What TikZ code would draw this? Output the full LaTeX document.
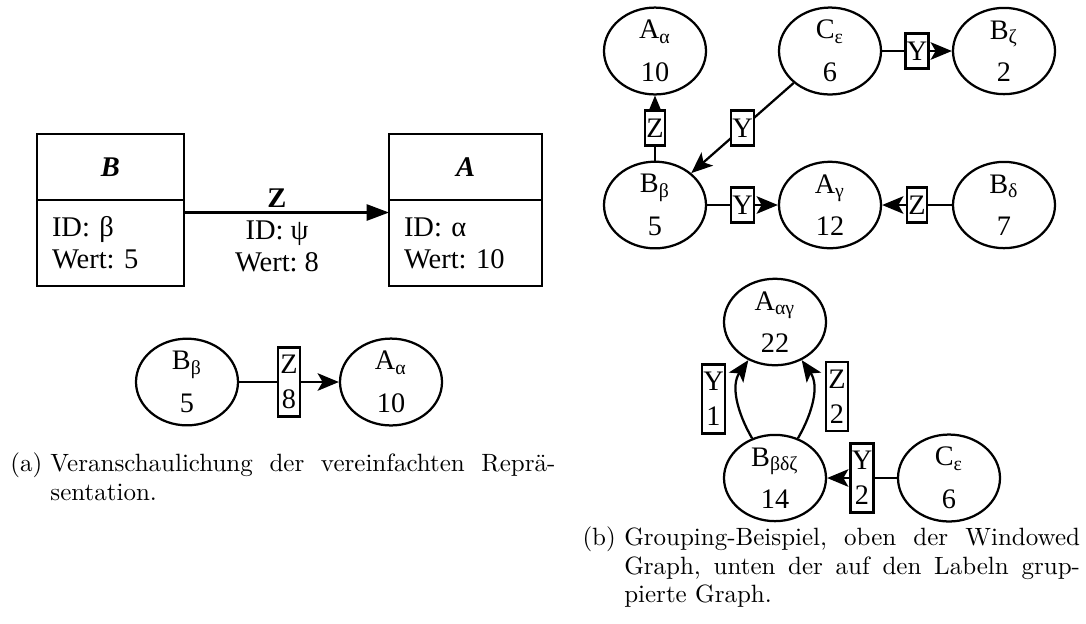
\documentclass[tikz,border=0pt]{standalone}
\usepackage{fontspec}
\newfontfamily\gvfont{Liberation Serif}
\usetikzlibrary{arrows.meta,positioning,shapes.geometric}
\frenchspacing

\begin{document}
\begin{tikzpicture}[
        x=0.4pt, y=-0.4pt,
        gvNode/.style={
            ellipse,
            draw,
            line width=0.9pt,
            minimum width=40.8pt,
            minimum height=30.4pt,
            inner sep=0pt,
            align=center,
            font=\gvfont\fontsize{11.3}{17}\selectfont
        },
        lblBox/.style={
            rectangle,
            draw,
            line width=0.9pt,
            fill=white,
            inner xsep=0.5pt,
            inner ysep=0pt,
            minimum width=8pt,
            minimum height=14pt,
            font=\gvfont\fontsize{11.3}{14}\selectfont
        },
        lblBoxTwo/.style={
            lblBox,
            minimum width=8.8pt,
            minimum height=27.6pt,
            align=center
        },
        headBox/.style={
            rectangle,
            draw,
            line width=0.9pt,
            outer sep=0pt,
            minimum height=26.4pt,
            font=\gvfont\fontsize{11.4}{12.8}\selectfont\bfseries\itshape
        },
        bodyBox/.style={
            rectangle,
            draw,
            line width=0.9pt,
            outer sep=0pt,
            minimum height=34.4pt,
            inner xsep=6pt,
            align=left,
            font=\gvfont\fontsize{11.4}{12.8}\selectfont
        },
        edgeText/.style={
            align=center,
            inner sep=0pt,
            font=\gvfont\fontsize{11.4}{12.8}\selectfont
        },
        edgeLine/.style={
            line width=0.9pt
        },
        boxArrow/.style={
            edgeLine,
            -{Triangle[length=9pt,width=6.5pt]}
        },
        arrowLine/.style={
            edgeLine,
            -{Stealth[length=8.5pt,width=7pt,inset=2pt]}
        },
        caption/.style={
            anchor=north west,
            inner sep=0pt,
            font=\fontsize{10}{11.5}\selectfont
        }
    ]
        \useasboundingbox (0,0) rectangle (1086,623);

        \node[headBox, minimum width=58.8pt] (bHead) at (110.5,167) {B};
        \node[bodyBox, text width=46.8pt, below=0pt of bHead] (bBody) {ID: β\\Wert: 5};
        \node[headBox, minimum width=61.2pt] (aHead) at (465.5,167) {A};
        \node[bodyBox, text width=49.2pt, below=0pt of aHead] (aBody) {ID: α\\Wert: 10};

        \draw[boxArrow] ([yshift=-5pt]bBody.north east) -- ([yshift=-5pt]aBody.north west);
        \node[edgeText] (zLabel) at (277,230) {\textbf{Z}\\ID: ψ\\Wert: 8};

        \node[gvNode] (bSimple) at (187,382) {B\textsubscript{β}\\5};
        \node[gvNode] (aSimple) at (391,382) {A\textsubscript{α}\\10};

        \draw[arrowLine] (bSimple) -- node[lblBoxTwo] (zSimple) {Z\\8} (aSimple);

        \node[caption] (capA) at (10,452)
            {\parbox[t]{218pt}{\hangindent=16pt\hangafter=1\noindent\makebox[16pt][l]{(a)}Veranschaulichung der vereinfachten Reprä-\linebreak sentation.}};

        \node[gvNode] (tAlpha) at (655,51)  {A\textsubscript{α}\\10};
        \node[gvNode] (tEps)   at (830,51)  {C\textsubscript{ε}\\6};
        \node[gvNode] (tZeta)  at (1004,51) {B\textsubscript{ζ}\\2};
        \node[gvNode] (tBeta)  at (655,205) {B\textsubscript{β}\\5};
        \node[gvNode] (tGamma) at (830,205) {A\textsubscript{γ}\\12};
        \node[gvNode] (tDelta) at (1004,205) {B\textsubscript{δ}\\7};

        \draw[arrowLine] (tBeta) -- node[lblBox] (tZ1) {Z} (tAlpha);
        \draw[arrowLine] (tEps) -- node[lblBox] (tY1) {Y} (tBeta);
        \draw[arrowLine] (tEps) -- node[lblBox] (tY2) {Y} (tZeta);
        \draw[arrowLine] (tBeta) -- node[lblBox] (tY3) {Y} (tGamma);
        \draw[arrowLine] (tDelta) -- node[lblBox] (tZ2) {Z} (tGamma);

        \node[gvNode] (gAG)  at (775,322) {A\textsubscript{αγ}\\22};
        \node[gvNode] (gBDZ) at (775,478) {B\textsubscript{βδζ}\\14};
        \node[gvNode] (gEps) at (949,478) {C\textsubscript{ε}\\6};

        \draw[arrowLine] (gBDZ) to[out=120, in=-125] (gAG);
        \draw[arrowLine] (gBDZ) to[out=60, in=-55] (gAG);
        \node[lblBoxTwo] (gY1) at (713.5,399) {Y\\1};
        \node[lblBoxTwo] (gZ2) at (837,396.5) {Z\\2};
        \draw[arrowLine] (gEps) -- node[lblBoxTwo] (gY2) {Y\\2} (gBDZ);

        \node[caption] (capB) at (582,526)
            {\parbox[t]{199pt}{\hangindent=16.7pt\hangafter=1\noindent\makebox[16.7pt][l]{(b)}Grouping-Beispiel, oben der Windowed\linebreak Graph, unten der auf den Labeln grup-\linebreak pierte Graph.}};

    \end{tikzpicture}
\end{document}
